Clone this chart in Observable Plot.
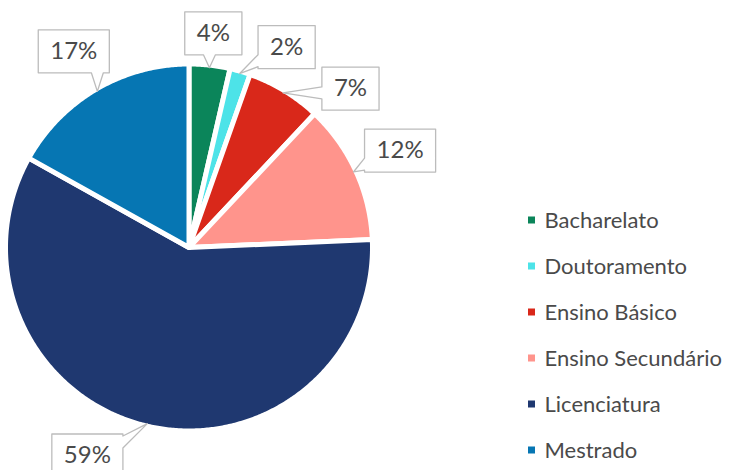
<!DOCTYPE html>
<html><head><meta charset="utf-8">
<script src="https://cdn.jsdelivr.net/npm/d3@7"></script>
<script src="https://cdn.jsdelivr.net/npm/@observablehq/plot@0.6"></script>
<style>body{margin:0;background:#fff}</style>
</head><body><div id="chart"></div>
<script>
// ---- data ----
const categories = ["Bacharelato","Doutoramento","Ensino Básico","Ensino Secundário","Licenciatura","Mestrado"];
const shares = [3.6, 1.8, 6.6, 12.3, 58.8, 16.9];
const pctLabels = ["4%","2%","7%","12%","59%","17%"];
const colors = ["#0b855a","#4de3e8","#d9281a","#ff948c","#1f3870","#0676b3"];

// ---- layout ----
const W = 731, H = 470, cx = 188.5, cy = 247, R = 183.5;
const FONT = "Lato, 'Open Sans', sans-serif", FS = 24, LFS = 22;
const TEXT = "#4a4a4a", BORDER = "#bcbcbc";
const total = d3.sum(shares);
const rad = d => d * Math.PI / 180;
const pt = (a, r) => [cx + r * Math.sin(rad(a)), cy - r * Math.cos(rad(a))];

let acc = 0;
const slices = categories.map((c, i) => {
  const a0 = acc / total * 360; acc += shares[i]; const a1 = acc / total * 360;
  return {cat: c, a0, a1, mid: (a0 + a1) / 2, label: pctLabels[i], i};
});

// slice polygons
const slicePts = [];
for (const s of slices) {
  slicePts.push({cat: s.cat, x: cx, y: cy});
  const n = Math.max(2, Math.ceil((s.a1 - s.a0) * 2));
  for (let k = 0; k <= n; k++) {
    const [x, y] = pt(s.a0 + (s.a1 - s.a0) * k / n, R);
    slicePts.push({cat: s.cat, x, y});
  }
}

// label layout (callouts)
const ctx = document.createElement("canvas").getContext("2d");
ctx.font = `${FS}px ${FONT}`;
const hh = 21.5, gap = 10, rEdge = R - 2.5;
const labs = slices.map(s => {
  const tw = ctx.measureText(s.label).width;
  return {...s, hw: (tw + 24) / 2, ang: s.mid};
});
// spread crowded labels on the right side
const right = labs.filter(l => l.mid < 180).sort((a, b) => a.mid - b.mid);
for (let k = 1; k < right.length; k++) right[k].ang = Math.max(right[k].ang, right[k - 1].ang + 19.5);
for (const l of labs) {
  const s = Math.abs(Math.sin(rad(l.ang))), c = Math.abs(Math.cos(rad(l.ang)));
  const D = rEdge + gap + l.hw * s + hh * c;
  let [x, y] = pt(l.ang, D);
  if (y > H - 15) { // keep box inside the frame
    y = H - 15;
    const RL = R + 48;
    x = cx + Math.sign(Math.sin(rad(l.ang))) * Math.sqrt(Math.max(0, RL * RL - (y - cy) ** 2));
  }
  l.bx = x; l.by = y;
  [l.tx, l.ty] = pt(l.mid, rEdge);
}
const calloutPts = [];
for (const l of labs) {
  const x0 = l.bx - l.hw, x1 = l.bx + l.hw, y0 = l.by - hh, y1 = l.by + hh;
  const dxn = (l.tx - l.bx) / l.hw, dyn = (l.ty - l.by) / hh;
  const side = Math.abs(dxn) > Math.abs(dyn) ? (dxn > 0 ? "r" : "l") : (dyn > 0 ? "b" : "t");
  const w = 6;
  const bcx = Math.min(Math.max(l.tx, x0 + 8), x1 - 8);
  const bcy = Math.min(Math.max(l.ty, y0 + 8), y1 - 8);
  const p = [];
  p.push([x0, y0]);
  if (side === "t") p.push([bcx - w, y0], [l.tx, l.ty], [bcx + w, y0]);
  p.push([x1, y0]);
  if (side === "r") p.push([x1, bcy - w], [l.tx, l.ty], [x1, bcy + w]);
  p.push([x1, y1]);
  if (side === "b") p.push([bcx + w, y1], [l.tx, l.ty], [bcx - w, y1]);
  p.push([x0, y1]);
  if (side === "l") p.push([x0, bcy + w], [l.tx, l.ty], [x0, bcy - w]);
  for (const [x, y] of p) calloutPts.push({id: l.cat, x, y});
}

// legend layout
const legend = categories.map((c, i) => ({cat: c, y: 220 + i * 46}));

const chart = Plot.plot({
  width: W, height: H, margin: 0,
  x: {domain: [0, W], range: [0, W], axis: null},
  y: {domain: [0, H], range: [0, H], axis: null},
  color: {domain: categories, range: colors},
  style: {background: "#fff"},
  marks: [
    Plot.line(slicePts, {x: "x", y: "y", z: "cat", fill: "cat", stroke: "white", strokeWidth: 5, strokeLinejoin: "round", curve: "linear-closed"}),
    Plot.line(calloutPts, {x: "x", y: "y", z: "id", fill: "white", stroke: BORDER, strokeWidth: 1.3, curve: "linear-closed"}),
    Plot.text(labs, {x: "bx", y: "by", text: "label", fill: TEXT, fontSize: FS, fontFamily: FONT}),
    Plot.rect(legend, {x1: () => 528, x2: () => 535, y1: d => d.y - 3.5, y2: d => d.y + 3.5, fill: "cat"}),
    Plot.text(legend, {x: () => 544, y: "y", text: "cat", textAnchor: "start", fill: TEXT, fontSize: LFS, fontFamily: FONT})
  ]
});
document.getElementById("chart").appendChild(chart);
</script>
</body></html>
